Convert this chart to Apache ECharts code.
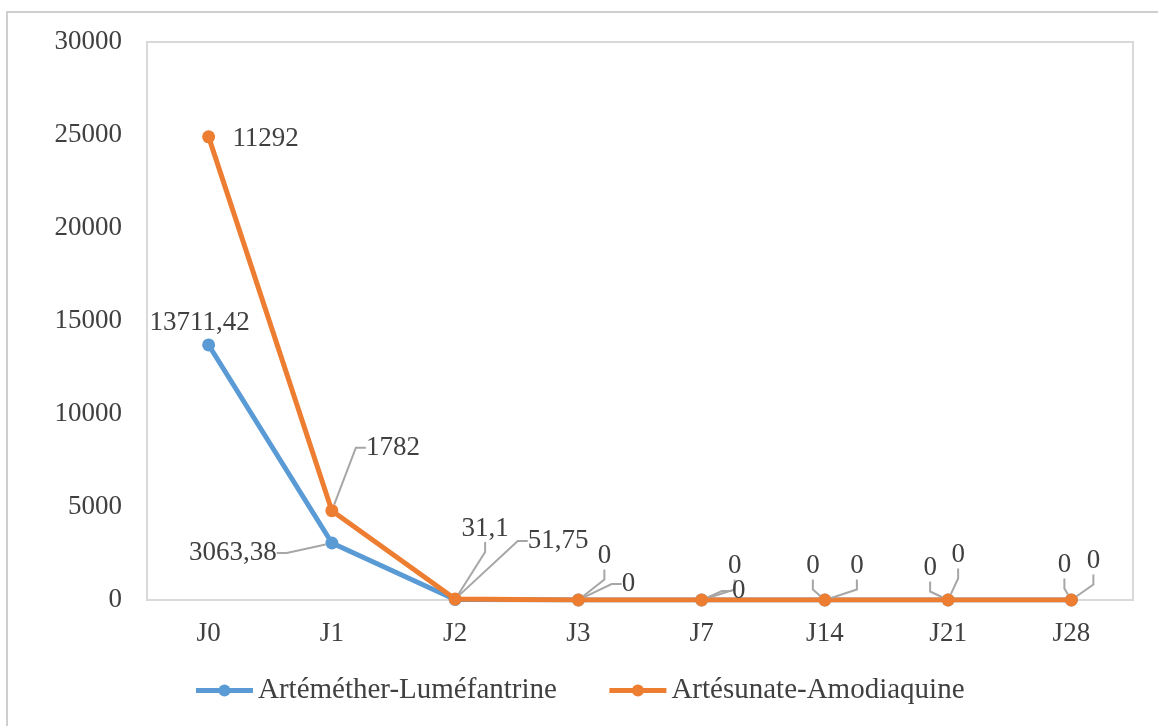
<!DOCTYPE html>
<html>
<head>
<meta charset="utf-8">
<script src="https://cdn.jsdelivr.net/npm/echarts@6/dist/echarts.min.js"></script>
<style>
  html, body { margin: 0; padding: 0; background: #fff; }
  #chart { width: 1158px; height: 726px; }
</style>
</head>
<body>
<div id="chart"></div>
<script>
  // données
  const categories = ['J0', 'J1', 'J2', 'J3', 'J7', 'J14', 'J21', 'J28']
  const seriesNames = ['Artéméther-Luméfantrine', 'Artésunate-Amodiaquine']
  const alValues = [13711.42, 3063.38, 31.1, 0, 0, 0, 0, 0]
  const asaqValues = [24900, 4800, 51.75, 0, 0, 0, 0, 0]
  const alLabels = ['13711,42', '3063,38', '31,1', '0', '0', '0', '0', '0']
  const asaqLabels = ['11292', '1782', '51,75', '0', '0', '0', '0', '0']
  const yTicks = [0, 5000, 10000, 15000, 20000, 25000, 30000]

  // décalage des étiquettes (dx, dy) par rapport au point
  const labelShift = [
    [[-9, -22], [-99, 10], [30, -71], [26, -44], [33, -34], [-12, -34], [-18, -32], [-7, -35]],
    [[57, 2], [61, -63], [103, -58], [50, -16], [37, -9], [32, -34], [10, -45], [22, -39]]
  ]

  const FONT = '"Liberation Serif", "DejaVu Serif", serif'
  const TXT = '#404040'

  const chart = echarts.init(document.getElementById('chart'))

  function makeSeries (idx, values, texts, color) {
    return {
      name: seriesNames[idx],
      type: 'line',
      data: values.map((v, i) => ({ value: v, labelLine: { show: i > 0 } })),
      symbol: 'circle',
      symbolSize: 13,
      z: idx + 2,
      itemStyle: { color: color },
      lineStyle: { color: color, width: 5 },
      label: {
        show: true,
        position: 'inside',
        formatter: p => texts[p.dataIndex],
        fontFamily: FONT,
        fontSize: 27,
        color: TXT
      },
      labelLine: {
        show: true,
        length2: 10,
        lineStyle: { color: '#a6a6a6', width: 2 }
      },
      labelLayout: p => ({ dx: labelShift[idx][p.dataIndex][0], dy: labelShift[idx][p.dataIndex][1] })
    }
  }

  chart.setOption({
    animation: false,
    backgroundColor: '#fff',
    graphic: [{
      type: 'rect',
      shape: { x: 7, y: 12, width: 1170, height: 740 },
      style: { fill: 'none', stroke: '#cfcfcf', lineWidth: 2 },
      silent: true
    }],
    grid: {
      left: 147,
      right: 25,
      top: 42,
      bottom: 126,
      show: true,
      borderColor: '#d9d9d9',
      borderWidth: 2
    },
    legend: {
      bottom: 16,
      left: 'center',
      itemWidth: 57,
      itemHeight: 15,
      itemGap: 50,
      lineStyle: { width: 5 },
      textStyle: { fontFamily: FONT, fontSize: 29, color: TXT },
      data: seriesNames
    },
    xAxis: {
      type: 'category',
      data: categories,
      boundaryGap: true,
      axisLine: { lineStyle: { color: '#d9d9d9', width: 2 } },
      axisTick: { show: false },
      axisLabel: { fontFamily: FONT, fontSize: 27, color: TXT, margin: 20 }
    },
    yAxis: {
      type: 'value',
      min: yTicks[0],
      max: yTicks[yTicks.length - 1],
      interval: yTicks[1] - yTicks[0],
      axisLine: { show: false },
      axisTick: { show: false },
      splitLine: { show: false },
      axisLabel: { fontFamily: FONT, fontSize: 27, color: TXT, margin: 25, formatter: v => String(v) }
    },
    series: [
      makeSeries(0, alValues, alLabels, '#5b9bd5'),
      makeSeries(1, asaqValues, asaqLabels, '#ed7d31')
    ]
  })
</script>
</body>
</html>
